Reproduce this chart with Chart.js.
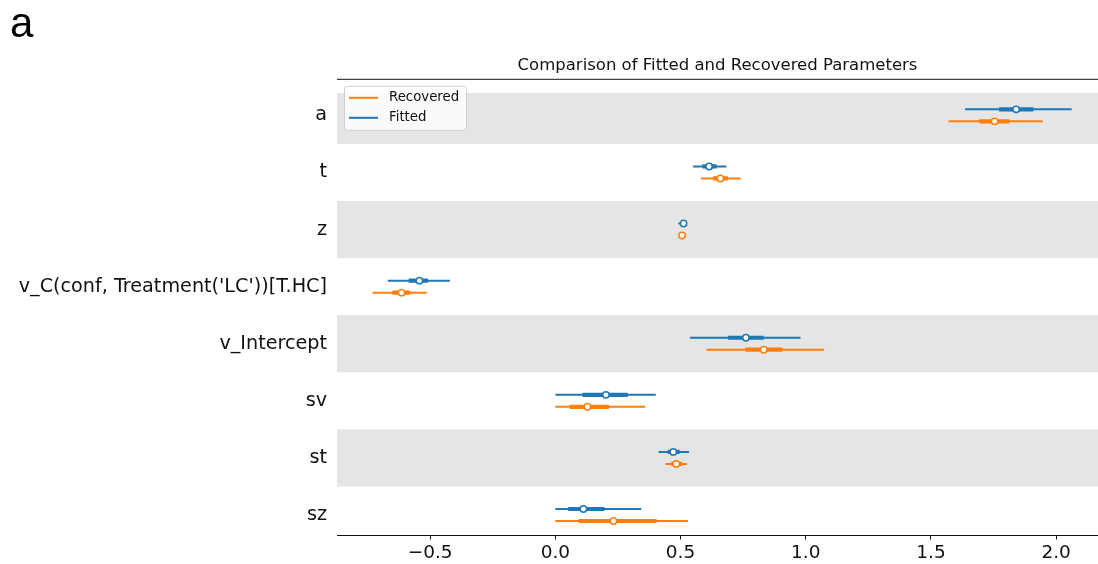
<!DOCTYPE html>
<html>
<head>
<meta charset="utf-8">
<script src="https://cdn.jsdelivr.net/npm/chart.js@4.4.0/dist/chart.umd.min.js"></script>
<style>
  body { margin: 0; background: #fff; }
  #wrap { width: 1098px; height: 564px; position: relative; }
</style>
</head>
<body>
<div id="wrap"><canvas id="forest" width="1098" height="564"></canvas></div>
<script>
// parameters, top to bottom
const params = ['a', 't', 'z', "v_C(conf, Treatment('LC'))[T.HC]", 'v_Intercept', 'sv', 'st', 'sz'];
const rowPos = [7, 6, 5, 4, 3, 2, 1, 0];
const xTicks = [-0.5, 0, 0.5, 1, 1.5, 2];

// Fitted posterior: mean, 94% HDI, interquartile range
const fittedMean    = [1.840, 0.614, 0.512, -0.543, 0.761, 0.202, 0.471, 0.112];
const fittedHdiLow  = [1.636, 0.550, 0.491, -0.669, 0.538, 0.000, 0.412, 0.000];
const fittedHdiHigh = [2.062, 0.683, 0.524, -0.421, 0.979, 0.401, 0.534, 0.343];
const fittedQLow    = [1.772, 0.587, 0.505, -0.586, 0.689, 0.108, 0.449, 0.051];
const fittedQHigh   = [1.909, 0.644, 0.517, -0.508, 0.832, 0.289, 0.496, 0.196];

// Recovered posterior
const recMean    = [1.754, 0.659, 0.506, -0.614, 0.832, 0.128, 0.483, 0.232];
const recHdiLow  = [1.570, 0.581, 0.500, -0.730, 0.603, 0.000, 0.440, 0.000];
const recHdiHigh = [1.946, 0.740, 0.512, -0.514, 1.073, 0.359, 0.526, 0.530];
const recQLow    = [1.693, 0.630, 0.503, -0.651, 0.758, 0.057, 0.463, 0.092];
const recQHigh   = [1.813, 0.689, 0.509, -0.580, 0.907, 0.214, 0.506, 0.404];

// shaded rows (data units on the y scale)
const bandRanges = [[6.5, 7.39], [4.5, 5.5], [2.5, 3.5], [0.5, 1.5]];

const BLUE = '#1f77b4';
const ORANGE = '#ff7f0e';
const FIT_OFF = 0.105;   // fitted row sits above the label, recovered below
const REC_OFF = -0.105;

Chart.defaults.font.family = "'DejaVu Sans', sans-serif";
Chart.defaults.color = '#111';

function segments(lo, hi, off) {
    return lo.flatMap((v, i) => [
        { x: v, y: rowPos[i] + off },
        { x: hi[i], y: rowPos[i] + off },
        { x: hi[i], y: null }
    ]);
}

function points(vals, off) {
    return vals.map((v, i) => ({ x: v, y: rowPos[i] + off }));
}

function lineSet(label, data, color, width, order) {
    return {
        label, data, order,
        showLine: true,
        spanGaps: false,
        borderColor: color,
        borderWidth: width,
        borderCapStyle: 'butt',
        pointRadius: 0,
        pointHoverRadius: 0
    };
}

const datasets = [
    {
        label: 'Fitted mean', data: points(fittedMean, FIT_OFF), order: 0,
        pointRadius: 3.2, pointBorderWidth: 1.5,
        pointBackgroundColor: '#fff', pointBorderColor: BLUE
    },
    {
        label: 'Recovered mean', data: points(recMean, REC_OFF), order: 0,
        pointRadius: 3.2, pointBorderWidth: 1.5,
        pointBackgroundColor: '#fff', pointBorderColor: ORANGE
    },
    lineSet('Fitted IQR', segments(fittedQLow, fittedQHigh, FIT_OFF), BLUE, 4.2, 1),
    lineSet('Recovered IQR', segments(recQLow, recQHigh, REC_OFF), ORANGE, 4.2, 1),
    lineSet('Fitted', segments(fittedHdiLow, fittedHdiHigh, FIT_OFF), BLUE, 2, 2),
    lineSet('Recovered', segments(recHdiLow, recHdiHigh, REC_OFF), ORANGE, 2, 2)
];

const forestDecor = {
    id: 'forestDecor',
    beforeDatasetsDraw(chart) {
        const { ctx, chartArea, scales: { y } } = chart;
        ctx.save();
        ctx.fillStyle = '#e5e5e5';
        bandRanges.forEach(([lo, hi]) => {
            const top = y.getPixelForValue(hi);
            const bot = y.getPixelForValue(lo);
            ctx.fillRect(chartArea.left, top, chartArea.right - chartArea.left, bot - top);
        });
        ctx.restore();
    },
    afterDraw(chart) {
        const { ctx, chartArea } = chart;
        ctx.save();
        // top spine
        ctx.strokeStyle = '#111';
        ctx.lineWidth = 1;
        ctx.beginPath();
        ctx.moveTo(chartArea.left, chartArea.top + 0.5);
        ctx.lineTo(chartArea.right, chartArea.top + 0.5);
        ctx.stroke();

        // legend box (Recovered first, as in the original)
        const lx = chartArea.left + 7, ly = chartArea.top + 7;
        ctx.fillStyle = 'rgba(255,255,255,0.8)';
        ctx.strokeStyle = '#d0d0d0';
        ctx.beginPath();
        ctx.roundRect(lx + 0.5, ly + 0.5, 122, 44, 3);
        ctx.fill();
        ctx.stroke();
        const entries = [['Recovered', ORANGE], ['Fitted', BLUE]];
        ctx.font = "13.3px 'DejaVu Sans'";
        ctx.textBaseline = 'middle';
        entries.forEach(([name, color], i) => {
            const cy = ly + 12 + i * 20;
            ctx.strokeStyle = color;
            ctx.lineWidth = 2;
            ctx.beginPath();
            ctx.moveTo(lx + 5, cy);
            ctx.lineTo(lx + 34, cy);
            ctx.stroke();
            ctx.fillStyle = '#111';
            ctx.fillText(name, lx + 45, cy);
        });

        // panel letter
        ctx.fillStyle = '#000';
        ctx.textBaseline = 'alphabetic';
        ctx.font = "42px 'Liberation Sans'";
        ctx.fillText('a', 10, 37);
        ctx.restore();
    }
};

new Chart(document.getElementById('forest'), {
    type: 'scatter',
    data: { datasets },
    options: {
        responsive: false,
        animation: false,
        devicePixelRatio: 1,
        layout: { padding: 0, autoPadding: false },
        plugins: {
            legend: { display: false },
            tooltip: { enabled: false },
            title: {
                display: true,
                text: 'Comparison of Fitted and Recovered Parameters',
                fullSize: false,
                font: { size: 16.5, weight: 'normal' },
                color: '#111',
                padding: { top: 56, bottom: 3 }
            }
        },
        scales: {
            x: {
                type: 'linear',
                min: -0.872,
                max: 2.167,
                afterBuildTicks: s => { s.ticks = xTicks.map(v => ({ value: v })); },
                afterFit: s => { s.height = 29; s.paddingLeft = 0; s.paddingRight = 0; },
                grid: { drawOnChartArea: false, drawTicks: true, tickLength: 4.5, color: '#111' },
                border: { display: true, color: '#111', width: 1 },
                ticks: {
                    padding: 4,
                    maxRotation: 0,
                    font: { size: 18.5, lineHeight: 1 },
                    callback: v => (v < 0 ? '\u2212' : '') + Math.abs(v).toFixed(1)
                }
            },
            y: {
                type: 'linear',
                min: -0.35,
                max: 7.64,
                afterBuildTicks: s => { s.ticks = rowPos.map(v => ({ value: v })); },
                afterFit: s => { s.width = 337; },
                grid: { display: false, drawTicks: false },
                border: { display: false },
                ticks: {
                    padding: 10,
                    autoSkip: false,
                    font: { size: 19.2 },
                    callback: v => params[rowPos.indexOf(v)]
                }
            }
        }
    },
    plugins: [forestDecor]
});
</script>
</body>
</html>
